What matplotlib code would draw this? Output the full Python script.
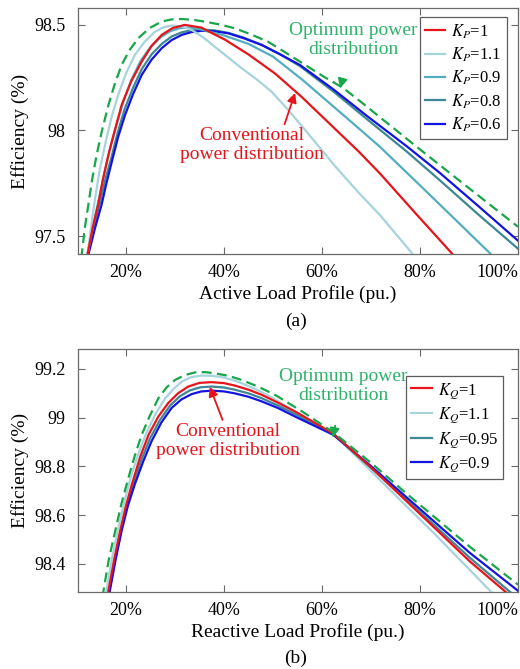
import matplotlib
matplotlib.use("Agg")
import matplotlib.pyplot as plt

plt.rcParams['font.family'] = ['Liberation Serif', 'DejaVu Serif']
plt.rcParams['mathtext.fontset'] = 'stix'

# ---------------- data (a): active load profile ----------------
opt_a_x = [0.104, 0.110, 0.116, 0.123, 0.131, 0.140, 0.151, 0.164, 0.177, 0.191, 0.207, 0.225, 0.248, 0.273, 0.293, 0.314, 0.340, 0.367, 0.395, 0.422, 0.455, 0.490, 0.520, 0.555, 0.600, 0.644, 0.685, 0.725, 0.760, 0.793, 0.860, 0.920, 1.000]
opt_a_y = [97.25, 97.42, 97.54, 97.647, 97.77, 97.884, 98.00, 98.12, 98.22, 98.31, 98.38, 98.437, 98.485, 98.516, 98.526, 98.528, 98.523, 98.513, 98.50, 98.484, 98.455, 98.42, 98.377, 98.326, 98.26, 98.20, 98.125, 98.05, 97.985, 97.923, 97.80, 97.69, 97.544]

kp1_x = [0.116, 0.122, 0.132, 0.143, 0.153, 0.164, 0.177, 0.191, 0.210, 0.232, 0.252, 0.273, 0.295, 0.320, 0.354, 0.378, 0.402, 0.450, 0.504, 0.558, 0.630, 0.675, 0.718, 0.790, 0.865, 0.880]
kp1_y = [97.25, 97.42, 97.54, 97.647, 97.77, 97.884, 98.00, 98.12, 98.23, 98.326, 98.40, 98.453, 98.485, 98.50, 98.487, 98.458, 98.43, 98.36, 98.27, 98.16, 98.00, 97.90, 97.797, 97.61, 97.418, 97.37]

kp11_x = [0.116, 0.122, 0.129, 0.137, 0.146, 0.157, 0.170, 0.184, 0.200, 0.218, 0.238, 0.259, 0.276, 0.293, 0.313, 0.334, 0.358, 0.382, 0.409, 0.436, 0.466, 0.497, 0.530, 0.562, 0.630, 0.675, 0.718, 0.784, 0.795]
kp11_y = [97.25, 97.42, 97.55, 97.68, 97.81, 97.93, 98.06, 98.168, 98.27, 98.358, 98.42, 98.468, 98.488, 98.497, 98.493, 98.476, 98.44, 98.395, 98.345, 98.295, 98.243, 98.184, 98.10, 98.012, 97.822, 97.705, 97.60, 97.418, 97.38]

kp09_x = [0.118, 0.122, 0.133, 0.145, 0.156, 0.168, 0.181, 0.195, 0.212, 0.230, 0.250, 0.270, 0.290, 0.310, 0.330, 0.350, 0.400, 0.450, 0.500, 0.560, 0.630, 0.675, 0.718, 0.800, 0.880, 0.943, 0.955]
kp09_y = [97.25, 97.42, 97.55, 97.68, 97.80, 97.92, 98.03, 98.14, 98.245, 98.33, 98.395, 98.44, 98.47, 98.485, 98.487, 98.48, 98.45, 98.41, 98.35, 98.24, 98.10, 98.01, 97.923, 97.74, 97.56, 97.418, 97.39]

kp08_x = [0.118, 0.122, 0.134, 0.147, 0.158, 0.170, 0.183, 0.197, 0.214, 0.232, 0.252, 0.273, 0.293, 0.314, 0.334, 0.354, 0.380, 0.409, 0.440, 0.477, 0.515, 0.555, 0.623, 0.691, 0.773, 0.840, 0.920, 1.000]
kp08_y = [97.25, 97.42, 97.54, 97.66, 97.77, 97.87, 97.99, 98.10, 98.20, 98.29, 98.36, 98.41, 98.445, 98.465, 98.475, 98.478, 98.474, 98.462, 98.44, 98.405, 98.36, 98.305, 98.185, 98.055, 97.90, 97.765, 97.60, 97.44]

kp06_x = [0.118, 0.124, 0.137, 0.150, 0.160, 0.171, 0.184, 0.198, 0.214, 0.232, 0.252, 0.273, 0.293, 0.314, 0.334, 0.354, 0.380, 0.409, 0.440, 0.477, 0.515, 0.555, 0.623, 0.691, 0.773, 0.840, 0.920, 1.000]
kp06_y = [97.25, 97.42, 97.54, 97.647, 97.75, 97.852, 97.97, 98.073, 98.17, 98.263, 98.335, 98.39, 98.428, 98.453, 98.466, 98.472, 98.47, 98.46, 98.437, 98.405, 98.36, 98.31, 98.195, 98.07, 97.925, 97.80, 97.64, 97.478]

# ---------------- data (b): reactive load profile ----------------
opt_b_x = [0.150, 0.154, 0.165, 0.178, 0.191, 0.205, 0.218, 0.232, 0.249, 0.266, 0.283, 0.300, 0.320, 0.341, 0.362, 0.382, 0.409, 0.436, 0.470, 0.504, 0.560, 0.623, 0.700, 0.766, 0.834, 0.902, 1.000]
opt_b_y = [98.20, 98.29, 98.42, 98.536, 98.65, 98.754, 98.845, 98.93, 99.01, 99.08, 99.125, 99.155, 99.175, 99.186, 99.187, 99.182, 99.172, 99.155, 99.127, 99.094, 99.025, 98.94, 98.815, 98.70, 98.585, 98.47, 98.315]

kq1_x = [0.159, 0.164, 0.176, 0.188, 0.200, 0.212, 0.229, 0.246, 0.266, 0.286, 0.306, 0.327, 0.350, 0.375, 0.400, 0.422, 0.450, 0.477, 0.510, 0.550, 0.623, 0.698, 0.766, 0.834, 0.902, 0.975, 0.990]
kq1_y = [98.20, 98.29, 98.42, 98.536, 98.64, 98.727, 98.84, 98.93, 99.005, 99.06, 99.10, 99.128, 99.143, 99.146, 99.142, 99.132, 99.115, 99.094, 99.062, 99.02, 98.935, 98.80, 98.67, 98.54, 98.41, 98.285, 98.26]

kq11_x = [0.156, 0.160, 0.171, 0.183, 0.196, 0.209, 0.224, 0.240, 0.260, 0.280, 0.298, 0.315, 0.334, 0.354, 0.377, 0.400, 0.425, 0.450, 0.475, 0.500, 0.550, 0.623, 0.698, 0.766, 0.834, 0.902, 0.943, 0.960]
kq11_y = [98.20, 98.29, 98.42, 98.536, 98.65, 98.75, 98.845, 98.93, 99.015, 99.08, 99.12, 99.15, 99.167, 99.173, 99.172, 99.165, 99.15, 99.13, 99.107, 99.08, 99.02, 98.935, 98.785, 98.65, 98.515, 98.375, 98.29, 98.26]

kq095_x = [0.161, 0.166, 0.178, 0.190, 0.202, 0.215, 0.232, 0.249, 0.269, 0.290, 0.310, 0.330, 0.352, 0.375, 0.400, 0.422, 0.450, 0.477, 0.510, 0.550, 0.623, 0.698, 0.766, 0.834, 0.902, 0.984, 1.000]
kq095_y = [98.20, 98.29, 98.42, 98.536, 98.64, 98.727, 98.83, 98.915, 98.99, 99.05, 99.088, 99.112, 99.125, 99.128, 99.124, 99.115, 99.10, 99.08, 99.05, 99.01, 98.932, 98.798, 98.675, 98.55, 98.425, 98.285, 98.26]

kq09_x = [0.162, 0.167, 0.179, 0.191, 0.204, 0.218, 0.235, 0.252, 0.272, 0.293, 0.313, 0.334, 0.354, 0.375, 0.400, 0.422, 0.450, 0.477, 0.510, 0.550, 0.623, 0.698, 0.766, 0.834, 0.902, 1.000]
kq09_y = [98.20, 98.29, 98.42, 98.536, 98.64, 98.727, 98.82, 98.903, 98.98, 99.04, 99.075, 99.097, 99.108, 99.111, 99.108, 99.10, 99.086, 99.067, 99.04, 99.00, 98.93, 98.805, 98.685, 98.565, 98.445, 98.29]

x_ticks = [0.2, 0.4, 0.6, 0.8, 1.0]
x_ticklabels = ['20%', '40%', '60%', '80%', '100%']
ya_ticks = [97.5, 98.0, 98.5]
ya_ticklabels = ['97.5', '98', '98.5']
yb_ticks = [98.4, 98.6, 98.8, 99.0, 99.2]
yb_ticklabels = ['98.4', '98.6', '98.8', '99', '99.2']

C_RED = '#e8141c'
C_LBLUE = '#a6d3dc'
C_TEAL = '#52aebe'
C_DTEAL = '#3e8794'
C_BLUE = '#1414e0'
C_GREEN = '#17a64a'
C_TXTGREEN = '#2eb36a'
C_FRAME = '#6a6a6a'

W, H = 520, 669
fig = plt.figure(figsize=(W / 100, H / 100), dpi=100)

def px_axes(left, top, right, bottom):
    return fig.add_axes([left / W, 1 - bottom / H, (right - left) / W, (bottom - top) / H])

ax1 = px_axes(78, 8, 518, 254)
ax2 = px_axes(78, 349, 518, 592)

lw = 1.6
ax1.plot(kp1_x, kp1_y, color=C_RED, lw=lw, label=r'$K_P$=1', zorder=6)
ax1.plot(kp11_x, kp11_y, color=C_LBLUE, lw=lw, label=r'$K_P$=1.1', zorder=5)
ax1.plot(kp09_x, kp09_y, color=C_TEAL, lw=lw, label=r'$K_P$=0.9', zorder=4)
ax1.plot(kp08_x, kp08_y, color=C_DTEAL, lw=lw, label=r'$K_P$=0.8', zorder=3)
ax1.plot(kp06_x, kp06_y, color=C_BLUE, lw=lw, label=r'$K_P$=0.6', zorder=3.5)
ax1.plot(opt_a_x, opt_a_y, color=C_GREEN, lw=lw, ls=(0, (4.5, 2.4)), zorder=7)

ax2.plot(kq1_x, kq1_y, color=C_RED, lw=lw, label=r'$K_Q$=1', zorder=6)
ax2.plot(kq11_x, kq11_y, color=C_LBLUE, lw=lw, label=r'$K_Q$=1.1', zorder=4)
ax2.plot(kq095_x, kq095_y, color=C_DTEAL, lw=lw, label=r'$K_Q$=0.95', zorder=5)
ax2.plot(kq09_x, kq09_y, color=C_BLUE, lw=lw, label=r'$K_Q$=0.9', zorder=5.5)
ax2.plot(opt_b_x, opt_b_y, color=C_GREEN, lw=lw, ls=(0, (4.5, 2.4)), zorder=7)

ax1.set_ylim(97.415, 98.58)
ax2.set_ylim(98.285, 99.282)

for ax, yt, ytl, xl in [(ax1, ya_ticks, ya_ticklabels, 'Active Load Profile (pu.)'),
                        (ax2, yb_ticks, yb_ticklabels, 'Reactive Load Profile (pu.)')]:
    ax.set_xlim(0.102, 1.0)
    ax.set_xticks(x_ticks)
    ax.set_xticklabels(x_ticklabels)
    ax.set_yticks(yt)
    ax.set_yticklabels(ytl)
    ax.tick_params(direction='in', top=True, right=True, length=5, width=0.8,
                   color=C_FRAME, labelsize=13, pad=7)
    ax.tick_params(axis='y', pad=9)
    ax.get_xticklabels()[-1].set_horizontalalignment('right')
    for s in ax.spines.values():
        s.set_color(C_FRAME)
        s.set_linewidth(0.9)
    ax.set_xlabel(xl, fontsize=14, labelpad=3)
    ax.set_ylabel('Efficiency (%)', fontsize=14, labelpad=4)

fig.text(296 / W, 1 - 321 / H, '(a)', fontsize=14, ha='center', va='center')
fig.text(296 / W, 1 - 658 / H, '(b)', fontsize=14, ha='center', va='center')

leg_kw = dict(fontsize=12, frameon=True, fancybox=False, handlelength=1.25,
              handletextpad=0.35, borderpad=0.3, labelspacing=0.3, borderaxespad=0.0,
              loc='upper right')
l1 = ax1.legend(bbox_to_anchor=(0.975, 0.963), **leg_kw)
l2 = ax2.legend(bbox_to_anchor=(0.966, 0.889), **leg_kw)
for lg in (l1, l2):
    lg.get_frame().set_edgecolor('#333333')
    lg.get_frame().set_linewidth(0.9)

ann_font = 14
ax1.annotate('Optimum power\ndistribution', xy=(0.637, 98.20), xytext=(0.663, 98.429),
             ha='center', va='center', color=C_TXTGREEN, fontsize=ann_font, linespacing=1.15,
             arrowprops=dict(arrowstyle='-|>', color=C_GREEN, lw=1.3, mutation_scale=14,
                             shrinkA=14, shrinkB=0), zorder=10)
ax1.annotate('Conventional\npower distribution', xy=(0.545, 98.178), xytext=(0.457, 97.931),
             ha='center', va='center', color=C_RED, fontsize=ann_font, linespacing=1.15,
             arrowprops=dict(arrowstyle='-|>', color=C_RED, lw=1.3, mutation_scale=14,
                             shrinkA=0, shrinkB=0, relpos=(0.72, 1.0)), zorder=10)
ax2.annotate('Optimum power\ndistribution', xy=(0.622, 98.918), xytext=(0.643, 99.131),
             ha='center', va='center', color=C_TXTGREEN, fontsize=ann_font, linespacing=1.15,
             arrowprops=dict(arrowstyle='-|>', color=C_GREEN, lw=1.3, mutation_scale=14,
                             shrinkA=14, shrinkB=0), zorder=10)
ax2.annotate('Conventional\npower distribution', xy=(0.371, 99.127), xytext=(0.408, 98.906),
             ha='center', va='center', color=C_RED, fontsize=ann_font, linespacing=1.15,
             arrowprops=dict(arrowstyle='-|>', color=C_RED, lw=1.3, mutation_scale=14,
                             shrinkA=0, shrinkB=0, relpos=(0.47, 1.0)), zorder=10)

fig.savefig('out.png', dpi=100)
